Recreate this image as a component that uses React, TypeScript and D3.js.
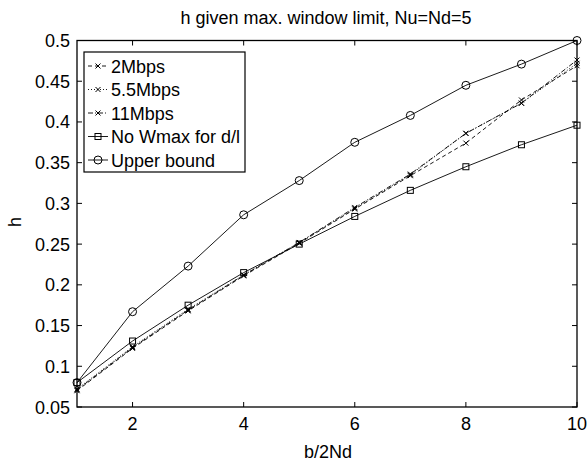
import React from "react";
import * as d3 from "d3";

const xs = [1, 2, 3, 4, 5, 6, 7, 8, 9, 10];
const s2Mbps = [0.07, 0.122, 0.168, 0.211, 0.251, 0.293, 0.334, 0.374, 0.427, 0.469];
const s55Mbps = [0.072, 0.124, 0.17, 0.212, 0.252, 0.294, 0.335, 0.386, 0.423, 0.472];
const s11Mbps = [0.071, 0.123, 0.169, 0.212, 0.252, 0.295, 0.336, 0.386, 0.423, 0.476];
const noWmax = [0.08, 0.131, 0.175, 0.215, 0.25, 0.284, 0.316, 0.345, 0.372, 0.396];
const upper = [0.08, 0.167, 0.223, 0.286, 0.328, 0.375, 0.408, 0.445, 0.471, 0.5];
const xTicks = [2, 4, 6, 8, 10];
const yTicks = [0.05, 0.1, 0.15, 0.2, 0.25, 0.3, 0.35, 0.4, 0.45, 0.5];
const labels = ["2Mbps", "5.5Mbps", "11Mbps", "No Wmax for d/l", "Upper bound"];

const series = [
  { name: labels[0], ys: s2Mbps, dash: "4,3", marker: "x" },
  { name: labels[1], ys: s55Mbps, dash: "1,2", marker: "x" },
  { name: labels[2], ys: s11Mbps, dash: "5,2,1,2", marker: "x" },
  { name: labels[3], ys: noWmax, dash: "", marker: "s" },
  { name: labels[4], ys: upper, dash: "", marker: "o" },
];

const L = 77, R = 577, T = 40.5, B = 407;
const font = "'Liberation Sans', Arial, sans-serif";
const FS = 18;

function Marker({ t, x, y }: { t: string; x: number; y: number }) {
  if (t === "x")
    return (
      <path d={`M${x - 2.5},${y - 2.5}L${x + 2.5},${y + 2.5}M${x - 2.5},${y + 2.5}L${x + 2.5},${y - 2.5}`} stroke="#000" strokeWidth={1} />
    );
  if (t === "s") return <rect x={x - 3} y={y - 3} width={6} height={6} fill="none" stroke="#000" strokeWidth={1} />;
  return <circle cx={x} cy={y} r={4} fill="none" stroke="#000" strokeWidth={1} />;
}

export default function App() {
  const x = d3.scaleLinear().domain([1, 10]).range([L, R]);
  const y = d3.scaleLinear().domain([0.05, 0.5]).range([B, T]);
  const line = d3.line<number>().x((_, i) => x(xs[i])).y((d) => y(d));
  const legY = [66, 89.5, 113, 136.5, 160];
  return (
    <svg width={588} height={462} style={{ position: "absolute", left: 0, top: 0, background: "#fff" }} fontFamily={font}>
      <rect width={588} height={462} fill="#fff" />
      <defs>
        <clipPath id="plot">
          <rect x={L - 6} y={T - 6} width={R - L + 12} height={B - T + 12} />
        </clipPath>
        <clipPath id="leg">
          <rect x={84} y={52} width={161} height={120} />
        </clipPath>
      </defs>
      <rect x={L} y={T} width={R - L} height={B - T} fill="none" stroke="#000" strokeWidth={1.3} />
      {xTicks.map((t) => (
        <g key={"x" + t}>
          <line x1={x(t)} x2={x(t)} y1={B} y2={B - 5} stroke="#000" />
          <line x1={x(t)} x2={x(t)} y1={T} y2={T + 5} stroke="#000" />
          <text x={x(t)} y={430} textAnchor="middle" fontSize={FS}>{t}</text>
        </g>
      ))}
      {yTicks.map((t) => (
        <g key={"y" + t}>
          <line x1={L} x2={L + 5} y1={y(t)} y2={y(t)} stroke="#000" />
          <line x1={R} x2={R - 5} y1={y(t)} y2={y(t)} stroke="#000" />
          <text x={L - 7} y={y(t) + 6.5} textAnchor="end" fontSize={FS}>{String(t)}</text>
        </g>
      ))}
      <g clipPath="url(#plot)">
        {series.map((s) => (
          <g key={s.name}>
            <path d={line(s.ys) || ""} fill="none" stroke="#000" strokeWidth={0.9} strokeDasharray={s.dash || undefined} />
            {s.ys.map((v, i) => (
              <Marker key={i} t={s.marker} x={x(xs[i])} y={y(v)} />
            ))}
          </g>
        ))}
      </g>
      <rect x={84} y={52} width={161} height={120} fill="#fff" stroke="#000" strokeWidth={1.2} />
      <g clipPath="url(#leg)">
        {series.map((s, i) => (
          <g key={"l" + s.name}>
            <line x1={88} x2={108} y1={legY[i]} y2={legY[i]} stroke="#000" strokeWidth={0.9} strokeDasharray={s.dash || undefined} />
            <Marker t={s.marker} x={98} y={legY[i]} />
            <text x={111} y={legY[i] + 6.5} fontSize={FS}>{s.name}</text>
          </g>
        ))}
      </g>
      <text x={326} y={24} textAnchor="middle" fontSize={FS}>h given max. window limit, Nu=Nd=5</text>
      <text x={328} y={458} textAnchor="middle" fontSize={FS}>b/2Nd</text>
      <text transform={`translate(21,222) rotate(-90)`} textAnchor="middle" fontSize={FS}>h</text>
    </svg>
  );
}
